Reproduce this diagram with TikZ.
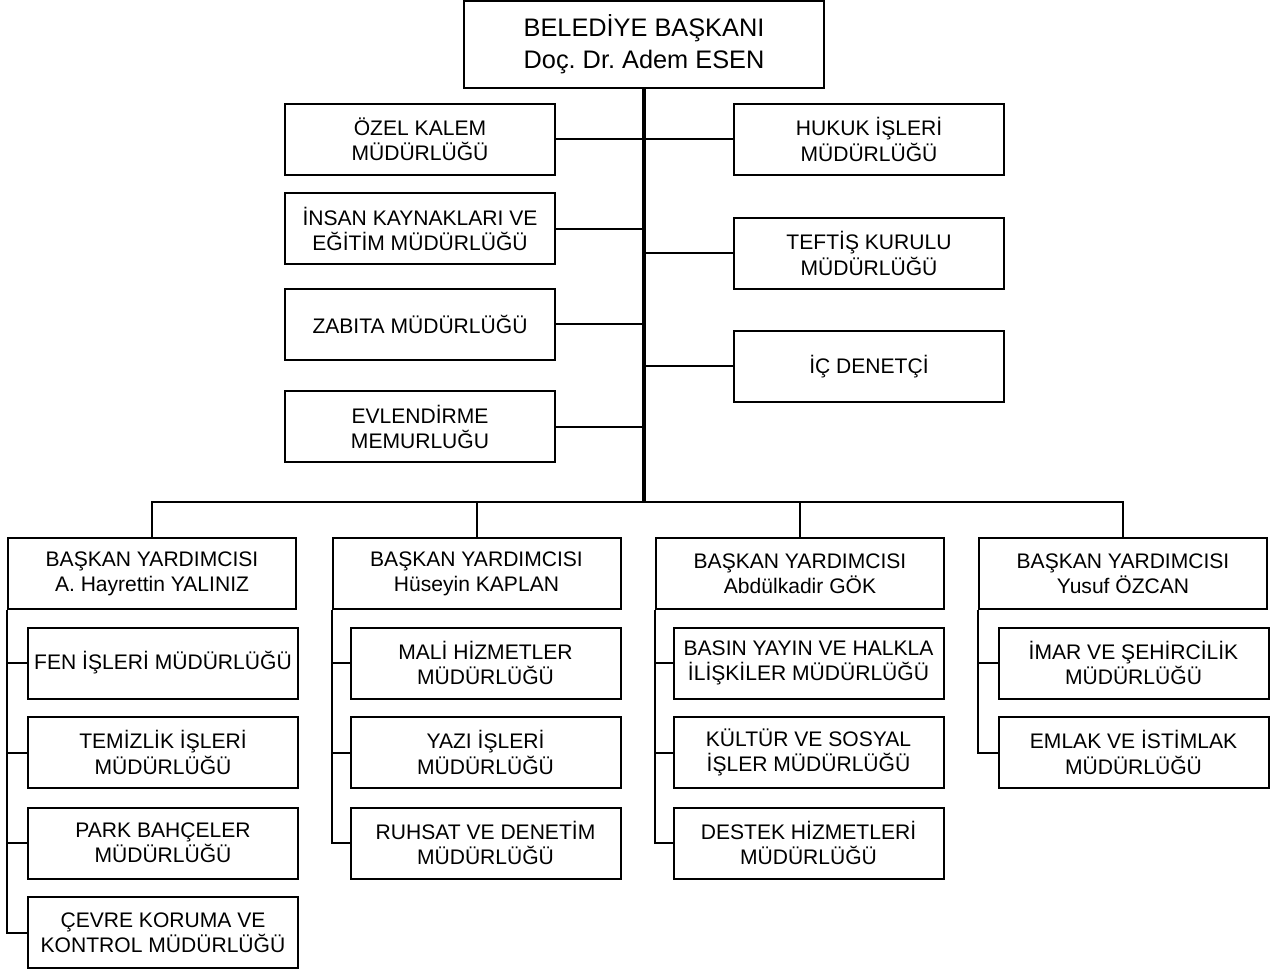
\documentclass[tikz,border=0pt]{standalone}
\usepackage{fontspec}
\setmainfont{Liberation Sans}
\frenchspacing

\begin{document}
\begin{tikzpicture}[x=0.75pt,y=0.75pt,yscale=-1,xscale=1,
  kutu/.style={draw,line width=1.5pt,align=center,inner sep=0pt,minimum height=53.25pt,font=\fontsize{15.8}{19}\selectfont},
  birim/.style={kutu,minimum width=202.5pt},
  yardimci/.style={kutu,minimum width=216pt},
  hat/.style={line width=1.5pt},
  govde/.style={line width=2.4pt}]
\useasboundingbox (0,0) rectangle (1288,969);

%Baskan
\node[kutu,minimum width=270pt,minimum height=65.25pt,font=\fontsize{19}{24}\selectfont] (baskan) at (644,44.5) {BELEDİYE BAŞKANI\\Doç. Dr. Adem ESEN};

%Sol birimler
\node[birim] (ozel) at (420,139.5) {ÖZEL KALEM\\MÜDÜRLÜĞÜ};
\node[birim] (insan) at (420,229) {İNSAN KAYNAKLARI VE\\EĞİTİM MÜDÜRLÜĞÜ};
\node[birim] (zabita) at (420,324.5) {ZABITA MÜDÜRLÜĞÜ};
\node[birim] (evlendirme) at (420,427) {EVLENDİRME\\MEMURLUĞU};
%Sag birimler
\node[birim] (hukuk) at (869,139.5) {HUKUK İŞLERİ\\MÜDÜRLÜĞÜ};
\node[birim] (teftis) at (869,253.5) {TEFTİŞ KURULU\\MÜDÜRLÜĞÜ};
\node[birim] (denetci) at (869,366.5) {İÇ DENETÇİ};

%Baskan yardimcilari
\node[yardimci] (yrd1) at (152,573.5) {BAŞKAN YARDIMCISI\\A. Hayrettin YALINIZ};
\node[yardimci] (yrd2) at (476.5,573.5) {BAŞKAN YARDIMCISI\\Hüseyin KAPLAN};
\node[yardimci] (yrd3) at (800,573.5) {BAŞKAN YARDIMCISI\\Abdülkadir GÖK};
\node[yardimci] (yrd4) at (1123,573.5) {BAŞKAN YARDIMCISI\\Yusuf ÖZCAN};

%1. yardimci
\node[birim] (fen) at (163,663) {FEN İŞLERİ MÜDÜRLÜĞÜ};
\node[birim] (temizlik) at (163,752.5) {TEMİZLİK İŞLERİ\\MÜDÜRLÜĞÜ};
\node[birim] (park) at (163,843) {PARK BAHÇELER\\MÜDÜRLÜĞÜ};
\node[birim] (cevre) at (163,932.5) {ÇEVRE KORUMA VE\\KONTROL MÜDÜRLÜĞÜ};
%2. yardimci
\node[birim] (mali) at (485.5,663) {MALİ HİZMETLER\\MÜDÜRLÜĞÜ};
\node[birim] (yazi) at (485.5,752.5) {YAZI İŞLERİ\\MÜDÜRLÜĞÜ};
\node[birim] (ruhsat) at (485.5,843) {RUHSAT VE DENETİM\\MÜDÜRLÜĞÜ};
%3. yardimci
\node[birim] (basin) at (808.5,663) {BASIN YAYIN VE HALKLA\\İLİŞKİLER MÜDÜRLÜĞÜ};
\node[birim] (kultur) at (808.5,752.5) {KÜLTÜR VE SOSYAL\\İŞLER MÜDÜRLÜĞÜ};
\node[birim] (destek) at (808.5,843) {DESTEK HİZMETLERİ\\MÜDÜRLÜĞÜ};
%4. yardimci
\node[birim] (imar) at (1133.5,663) {İMAR VE ŞEHİRCİLİK\\MÜDÜRLÜĞÜ};
\node[birim] (emlak) at (1133.5,752.5) {EMLAK VE İSTİMLAK\\MÜDÜRLÜĞÜ};

%Ana hat
\coordinate (bus) at (644,502);
\draw[govde] (baskan.south) -- (bus);
\foreach \b in {ozel,insan,zabita,evlendirme,hukuk,teftis,denetci}
  \draw[hat] (\b) -- (\b -| baskan.south);
\draw[hat] (yrd1.north) |- (bus) -| (yrd4.north);
\draw[hat] (yrd2.north) -- (yrd2.north |- bus);
\draw[hat] (yrd3.north) -- (yrd3.north |- bus);

%Alt hatlar
\draw[hat] (yrd1.south west) |- (cevre.west);
\foreach \b in {fen,temizlik,park}
  \draw[hat] (\b.west) -- (\b.west -| yrd1.west);
\draw[hat] (yrd2.south west) |- (ruhsat.west);
\foreach \b in {mali,yazi}
  \draw[hat] (\b.west) -- (\b.west -| yrd2.west);
\draw[hat] (yrd3.south west) |- (destek.west);
\foreach \b in {basin,kultur}
  \draw[hat] (\b.west) -- (\b.west -| yrd3.west);
\draw[hat] (yrd4.south west) |- (emlak.west);
\draw[hat] (imar.west) -- (imar.west -| yrd4.west);

\end{tikzpicture}
\end{document}
